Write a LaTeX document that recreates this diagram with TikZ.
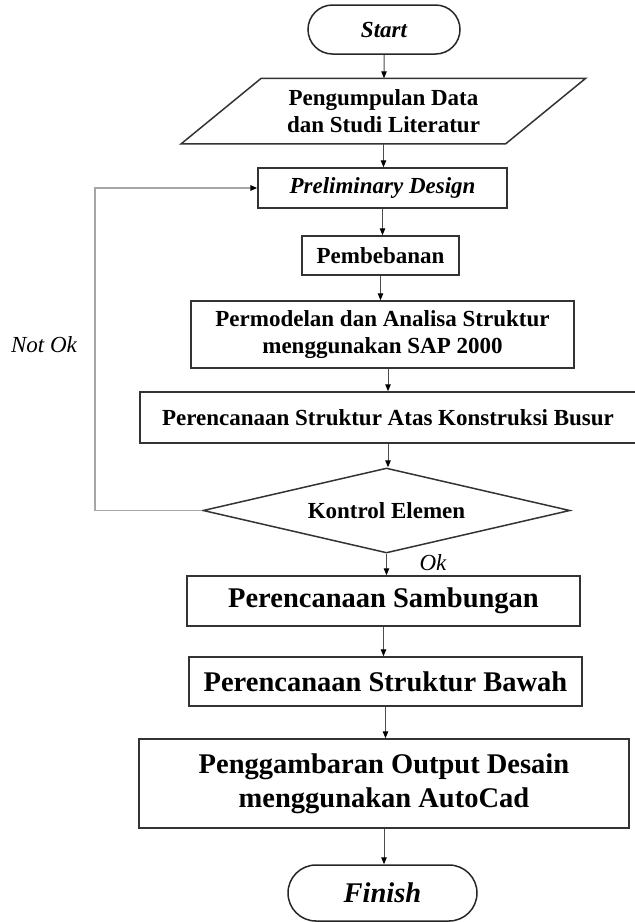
\documentclass[tikz,border=0pt]{standalone}
\usepackage{fontspec}
\setmainfont{Liberation Serif}
\usepackage{tikz}
\usetikzlibrary{positioning, shapes.geometric, shapes.misc, arrows.meta, calc}

\newcommand{\upsize}{\fontsize{23}{27}\selectfont}
\newcommand{\lowsize}{\fontsize{28.5}{34}\selectfont}

\begin{document}
\begin{tikzpicture}[x=1pt, y=-1pt,
		box/.style={draw=black!80, line width=1.5pt, rectangle, align=center, inner sep=0pt, font=\upsize\bfseries},
		terminal/.style={draw=black!85, line width=1.5pt, rounded rectangle, inner sep=0pt},
		boxline/.style={draw=black!80, line width=1.5pt},
		flow/.style={draw=black!70, line width=1pt, -{Triangle[length=7pt, width=5.5pt, color=black]}},
		backline/.style={draw=black!35, line width=1.5pt, -{Triangle[length=7pt, width=5.5pt, color=black]}},
		note/.style={font=\upsize\itshape, inner sep=0pt}]
		\useasboundingbox (0,0) rectangle (635,922);
		\node[terminal, minimum width=152pt, minimum height=49pt, font=\upsize\bfseries\itshape] (start) at (384, 29.5) {Start};
		\node[box, draw=none, minimum width=323pt, minimum height=64pt] (data) at (383.5, 111) {Pengumpulan Data\\dan Studi Literatur};
		\draw[boxline] ([xshift=-40pt]data.south west) -- ([xshift=-40pt]data.south east) -- ([xshift=40pt]data.north east) -- ([xshift=40pt]data.north west) -- cycle;
		\node[box, minimum width=249pt, minimum height=40pt, font=\upsize\bfseries\itshape] (prelim) at (382.5, 188) {Preliminary Design};
		\node[box, minimum width=157pt, minimum height=39pt] (beban) at (380.5, 255.5) {Pembebanan};
		\node[box, minimum width=383pt, minimum height=67pt] (model) at (382.5, 334.5) {Permodelan dan Analisa Struktur\\menggunakan SAP 2000};
		\node[box, minimum width=496pt, minimum height=51pt] (atas) at (388, 417.5) {Perencanaan Struktur Atas Konstruksi Busur};
		\node[draw=black!80, line width=1.5pt, diamond, aspect=4.3, inner sep=0pt, minimum width=367pt, minimum height=85pt, font=\upsize\bfseries] (kontrol) at (386.5, 510.5) {Kontrol Elemen};
		\node[box, minimum width=393pt, minimum height=50pt, font=\lowsize\bfseries] (sambung) at (383.5, 601) {Perencanaan Sambungan};
		\node[box, minimum width=393pt, minimum height=49pt, font=\lowsize\bfseries] (bawah) at (385.5, 681.5) {Perencanaan Struktur Bawah};
		\node[box, minimum width=490pt, minimum height=89pt, font=\lowsize\bfseries] (gambar) at (384, 783.5) {Penggambaran Output Desain\\menggunakan AutoCad};
		\node[terminal, minimum width=189pt, minimum height=56pt, font=\lowsize\bfseries\itshape] (finish) at (382.5, 893) {Finish};
		\node[note] (notok) at (44, 345) {Not Ok};
		\node[note] (ok) at (433, 563) {Ok};
		\coordinate (turn) at (95, 510.5);
		\draw[flow] (start) -- (start |- data.north);
		\draw[flow] (data) -- (data |- prelim.north);
		\draw[flow] (prelim) -- (prelim |- beban.north);
		\draw[flow] (beban) -- (beban |- model.north);
		\draw[flow] (atas.north |- model.south) -- (atas.north);
		\draw[flow] (atas) -- (atas |- kontrol.north);
		\draw[flow] (kontrol) -- (kontrol |- sambung.north);
		\draw[flow] (sambung) -- (sambung |- bawah.north);
		\draw[flow] (bawah) -- (bawah |- gambar.north);
		\draw[flow] (gambar) -- (gambar |- finish.north);
		\draw[backline] (kontrol.west) -- (turn) |- (prelim.west);
	\end{tikzpicture}
\end{document}
